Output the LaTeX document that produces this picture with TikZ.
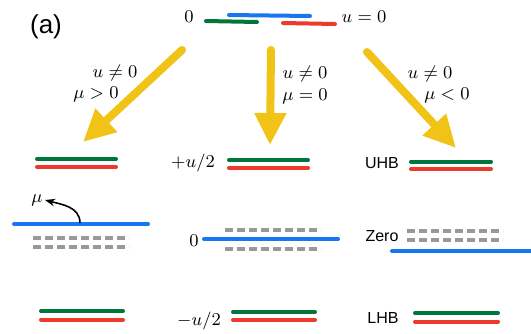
\documentclass[tikz,border=0pt]{standalone}
\usepackage{fontspec}
\newfontfamily\bandfont{Liberation Sans}
\usetikzlibrary{arrows.meta}
\definecolor{lvlblue}{RGB}{24,118,240}
\definecolor{lvlgreen}{RGB}{0,118,58}
\definecolor{lvlred}{RGB}{238,58,42}
\definecolor{flowyellow}{RGB}{240,195,22}

\begin{document}
\begin{tikzpicture}[x=0.5pt, y=-0.5pt, font=\small, inner sep=1pt,
			level/.style={line width=2pt, line cap=round},
			gap/.style={line width=2pt, gray!80, dash pattern=on 4pt off 2pt},
			flow/.style={line width=4pt, line cap=round, flowyellow, -{Triangle[length=16pt,width=15pt]}},
			band/.style={font=\bandfont\footnotesize}]
			\useasboundingbox (0,0) rectangle (531,333);
			\node[font=\bandfont\fontsize{13}{15}\selectfont] (tag) at (46,27) {(a)};
			% degenerate levels at u = 0
			\node (zero) at (189,17) {$0$};
			\node (uzero) at (364,17) {$u=0$};
			\draw[level, lvlblue] (229,15) -- (310,16);
			\draw[level, lvlgreen] (206,21) -- (257,22);
			\draw[level, lvlred] (283,23) -- (335,24);
			% the three cases
			\coordinate (s1) at (182,50); \coordinate (t1) at (83,142);
			\coordinate (s2) at (271,50); \coordinate (t2) at (270,145);
			\coordinate (s3) at (367,52); \coordinate (t3) at (456,148);
			\draw[flow] (s1) -- (t1);
			\draw[flow] (s2) -- (t2);
			\draw[flow] (s3) -- (t3);
			\node (c1a) at (115,73) {$u\neq0$};
			\node (c1b) at (96,94) {$\mu>0$};
			\node (c2a) at (305,74) {$u\neq0$};
			\node (c2b) at (305,96) {$\mu=0$};
			\node (c3a) at (430,74) {$u\neq0$};
			\node (c3b) at (447,95) {$\mu<0$};
			% upper and lower bands
			\foreach \xa/\xb/\yg/\yr in {37/116/159/167, 229/308/160/168, 411/491/161.5/169,
				41/123/311/319.5, 233/315/312/320, 415/498/313/321.5}{
				\draw[level, lvlgreen] (\xa,\yg) -- (\xb,\yg);
				\draw[level, lvlred] (\xa,\yr) -- (\xb,\yr);
			}
			\node (uplus) at (193,163) {$+u/2$};
			\node (uminus) at (199,321) {$-u/2$};
			\node[band] (uhb) at (382,163) {UHB};
			\node[band] (lhb) at (383,318) {LHB};
			\node[band] (zr) at (382,236) {Zero};
			\node (mid0) at (194,241) {$0$};
			% zero modes
			\draw[gap] (33,238) -- (129,238);
			\draw[gap] (33,247) -- (129,247);
			\draw[gap] (225,230) -- (321,230);
			\draw[gap] (225,249) -- (321,249);
			\draw[gap] (407,231) -- (503,231);
			\draw[gap] (407,239.5) -- (503,239.5);
			\draw[level, lvlblue] (14,224) -- (148,224);
			\draw[level, lvlblue] (204,239) -- (338,239);
			\draw[level, lvlblue] (392,251) -- (540,251);
			% chemical potential
			\coordinate (mufoot) at (80,223);
			\node (mu) at (37,200) {$\mu$};
			\draw[line width=0.8pt, -{Stealth[length=5pt]}] (mufoot) to[out=90, in=-15] (mu.east);
\end{tikzpicture}
\end{document}
